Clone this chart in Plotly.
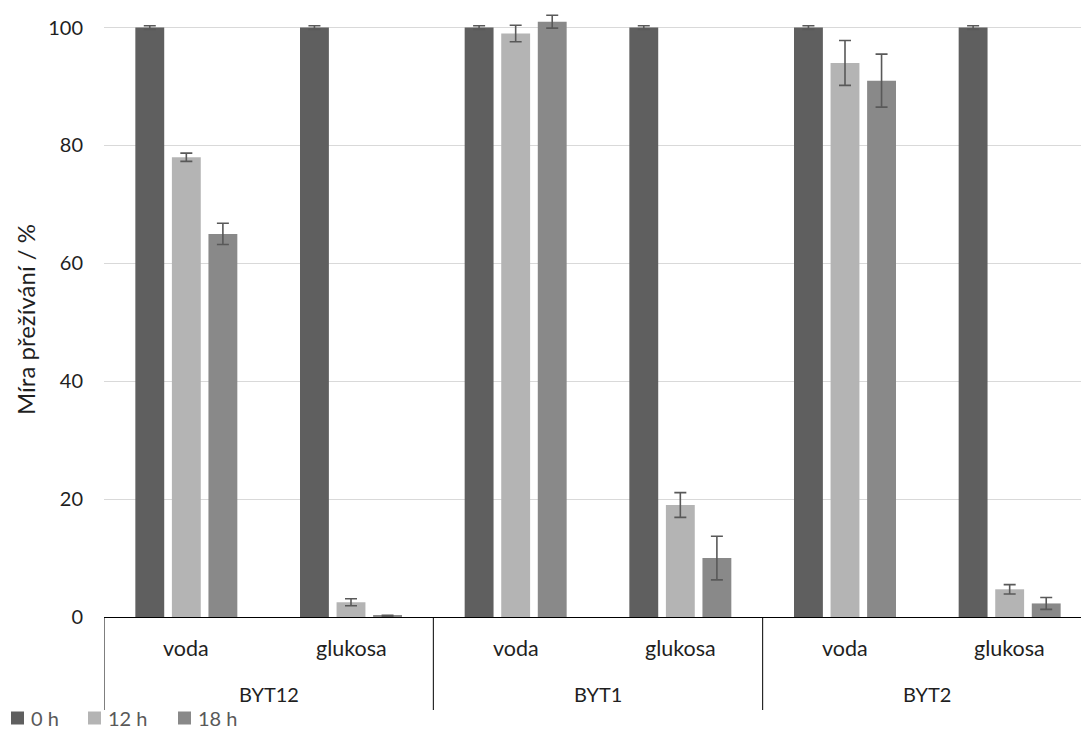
import plotly.graph_objects as go

# Survival data per strain (group) and medium (sub-category)
groups = ["BYT12", "BYT1", "BYT2"]
media = ["voda", "glukosa"]
series_names = ["0 h", "12 h", "18 h"]

vals_0h = [100, 100, 100, 100, 100, 100]
vals_12h = [78.0, 2.5, 99.0, 19.0, 94.0, 4.7]
vals_18h = [65.0, 0.2, 101.0, 10.0, 91.0, 2.3]

err_0h = [0.3, 0.3, 0.3, 0.3, 0.3, 0.3]
err_12h = [0.7, 0.6, 1.4, 2.1, 3.8, 0.8]
err_18h = [1.8, 0.1, 1.1, 3.7, 4.5, 1.0]

y_ticks = [0, 20, 40, 60, 80, 100]
y_title = "Míra přežívání / %"

colors = ["#5f5f5f", "#b4b4b4", "#898989"]
err_color = "#595959"
FONT = "Lato"
TXT = "#1f1f1f"

# one numeric slot per (group, medium) pair
labels = [(g, m) for g in groups for m in media]
xpos = list(range(len(labels)))

fig = go.Figure()
for name, vals, errs, col in zip(series_names,
                                 [vals_0h, vals_12h, vals_18h],
                                 [err_0h, err_12h, err_18h],
                                 colors):
    fig.add_trace(go.Bar(
        x=xpos, y=vals, name=name,
        marker=dict(color=col, line=dict(width=0)),
        error_y=dict(type="data", array=errs, visible=True,
                     color=err_color, thickness=1.6, width=6),
        showlegend=False,
    ))

W, H = 1081, 738
ml, mr, mt, mb = 104, 0, 4, 121
plot_w = W - ml - mr
plot_h = H - mt - mb
y_max = 104.0


def px_x(p):
    """pixel column -> paper x"""
    return (p - ml) / plot_w


def px_y(p):
    """pixel row -> paper y"""
    return (H - mb - p) / plot_h


fig.update_layout(
    width=W, height=H,
    margin=dict(l=ml, r=mr, t=mt, b=mb),
    paper_bgcolor="white", plot_bgcolor="white",
    barmode="group", bargap=0.334, bargroupgap=0.21,
    font=dict(family=FONT, size=20, color=TXT),
    showlegend=False,
)

fig.update_yaxes(
    range=[0, y_max], tickvals=y_ticks, ticktext=[str(v) for v in y_ticks],
    showgrid=True, gridcolor="#d9d9d9", gridwidth=1.3,
    zeroline=False, showline=False, ticks="",
    ticklabelstandoff=20,
    tickfont=dict(family=FONT, size=20, color=TXT),
)
fig.update_xaxes(
    range=[-0.5, -0.5 + len(labels) * (plot_w / 988.0)],
    tickvals=xpos, showticklabels=False, ticks="",
    showgrid=False, zeroline=False,
    showline=True, linecolor="#000000", linewidth=1,
)

# y-axis title
fig.add_annotation(
    text=y_title, textangle=-90, xref="paper", yref="paper",
    x=px_x(25), y=px_y(320), xanchor="center", yanchor="middle",
    showarrow=False, font=dict(family=FONT, size=24, color=TXT),
)

# two-level category labels
for i, (g, m) in enumerate(labels):
    fig.add_annotation(
        text=m, x=i, y=px_y(648), xref="x", yref="paper",
        showarrow=False, xanchor="center", yanchor="middle",
        font=dict(family=FONT, size=21.5, color=TXT),
    )
for j, g in enumerate(groups):
    fig.add_annotation(
        text=g, x=2 * j + 0.5, y=px_y(694), xref="x", yref="paper",
        showarrow=False, xanchor="center", yanchor="middle",
        font=dict(family=FONT, size=20, color=TXT),
    )

# group dividers below the axis
for j in range(len(groups)):
    xb = 2 * j - 0.5
    fig.add_shape(type="line", xref="x", yref="paper",
                  x0=xb, x1=xb, y0=0, y1=px_y(710),
                  line=dict(color="#000000", width=1))

# legend row
leg_y = 718
for name, col, sx in zip(series_names, colors, [11, 88, 178]):
    fig.add_shape(type="rect", xref="paper", yref="paper",
                  x0=px_x(sx), x1=px_x(sx + 13),
                  y0=px_y(leg_y + 6.5), y1=px_y(leg_y - 6.5),
                  fillcolor=col, line=dict(width=0))
    fig.add_annotation(
        text=name, xref="paper", yref="paper",
        x=px_x(sx + 18), y=px_y(leg_y), xanchor="left", yanchor="middle",
        showarrow=False, font=dict(family=FONT, size=20, color="#595959"),
    )

fig.write_html("out.html")
